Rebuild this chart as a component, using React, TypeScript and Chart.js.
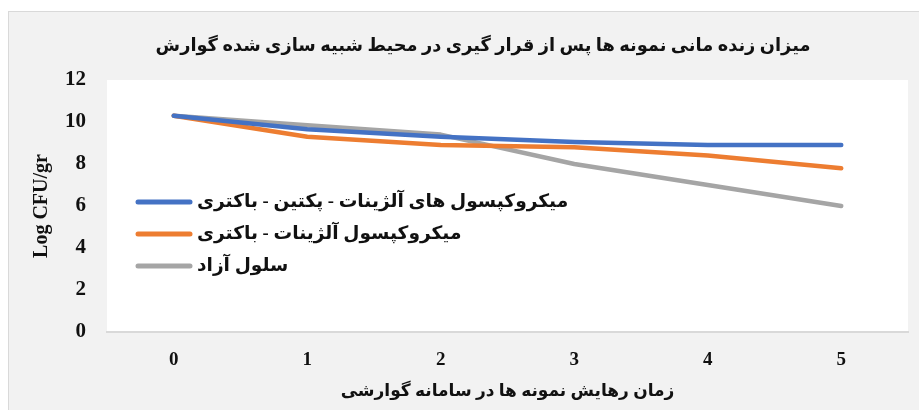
import React, { useEffect, useRef } from "react";
import { Chart, registerables } from "chart.js";

Chart.register(...registerables);

const chartTitle = "میزان زنده مانی نمونه ها پس از قرار گیری در محیط شبیه سازی شده گوارش";
const xAxisTitle = "زمان رهایش نمونه ها در سامانه گوارشی";
const yAxisTitle = "Log CFU/gr";
const categories = ["0", "1", "2", "3", "4", "5"];
const seriesNames = [
  "میکروکپسول های آلژینات - پکتین - باکتری",
  "میکروکپسول آلژینات - باکتری",
  "سلول آزاد",
];
const pectinSeries = [10.3, 9.65, 9.3, 9.05, 8.9, 8.9];
const alginateSeries = [10.3, 9.3, 8.9, 8.8, 8.4, 7.8];
const freeCellSeries = [10.3, 9.85, 9.4, 8.0, 7.0, 6.0];
const seriesColors = ["#4472C4", "#ED7D31", "#A5A5A5"];

const FONT = "'Liberation Serif', 'Times New Roman', 'DejaVu Sans', serif";

const decorPlugin = {
  id: "decor",
  beforeDraw(chart: any) {
    const { ctx, chartArea } = chart;
    ctx.save();
    ctx.fillStyle = "#ffffff";
    ctx.fillRect(chartArea.left, chartArea.top, chartArea.right - chartArea.left, chartArea.bottom - chartArea.top);
    ctx.restore();
  },
  afterDraw(chart: any) {
    const { ctx } = chart;
    ctx.save();
    // title
    ctx.fillStyle = "#111";
    ctx.font = `bold 17.8px ${FONT}`;
    ctx.textAlign = "center";
    ctx.textBaseline = "middle";
    ctx.fillText(chartTitle, 483, 46);
    // legend
    chart.data.datasets.forEach((ds: any, i: number) => {
      const y = 202 + i * 32;
      ctx.strokeStyle = ds.borderColor;
      ctx.lineWidth = 5;
      ctx.lineCap = "round";
      ctx.beginPath();
      ctx.moveTo(138, y);
      ctx.lineTo(190, y);
      ctx.stroke();
      ctx.fillStyle = "#111";
      ctx.font = `bold 18.6px ${FONT}`;
      ctx.textAlign = "left";
      ctx.textBaseline = "middle";
      ctx.fillText(ds.label, 197, y);
    });
    ctx.restore();
  },
};

export default function App() {
  const canvasRef = useRef<HTMLCanvasElement | null>(null);

  useEffect(() => {
    if (!canvasRef.current) return;
    const mk = (label: string, data: number[], color: string) => ({
      label,
      data,
      borderColor: color,
      backgroundColor: color,
      borderWidth: 4.5,
      borderCapStyle: "round" as const,
      borderJoinStyle: "round" as const,
      pointRadius: 0,
      tension: 0,
      fill: false,
    });
    const chart = new Chart(canvasRef.current, {
      type: "line",
      data: {
        labels: categories,
        datasets: [
          mk(seriesNames[0], pectinSeries, seriesColors[0]),
          mk(seriesNames[1], alginateSeries, seriesColors[1]),
          mk(seriesNames[2], freeCellSeries, seriesColors[2]),
        ],
      },
      options: {
        animation: false,
        responsive: true,
        maintainAspectRatio: false,
        layout: { padding: { top: 80, left: 0, right: 11, bottom: 0 } },
        plugins: {
          legend: { display: false },
          title: { display: false },
          tooltip: { enabled: false },
        },
        scales: {
          x: {
            type: "category",
            offset: true,
            grid: { display: false, drawTicks: false },
            border: { display: true, color: "#d9d9d9", width: 2 },
            ticks: {
              color: "#111",
              font: { family: FONT, size: 19, weight: "bold" },
              padding: 17,
            },
            title: {
              display: true,
              text: xAxisTitle,
              color: "#111",
              font: { family: FONT, size: 17, weight: "bold" },
              padding: { top: 0, bottom: 8 },
            },
            afterFit(scale: any) {
              scale.height = 78;
            },
          },
          y: {
            min: 0,
            max: 12,
            ticks: {
              stepSize: 2,
              color: "#111",
              font: { family: FONT, size: 21, weight: "bold" },
              padding: 21,
            },
            grid: { display: false, drawTicks: false },
            border: { display: false },
            title: {
              display: true,
              text: yAxisTitle,
              color: "#111",
              font: { family: FONT, size: 20, weight: "bold" },
              padding: { top: 30, bottom: 0 },
            },
            afterFit(scale: any) {
              scale.width = 107;
            },
          },
        },
      },
      plugins: [decorPlugin],
    });
    return () => chart.destroy();
  }, []);

  return (
    <div style={{ position: "absolute", left: 0, top: 0, width: 919, height: 410 }}>
      <div
        style={{
          position: "absolute",
          left: 8,
          top: 11,
          width: 911,
          height: 399,
          background: "#f2f2f2",
          borderTop: "1.5px solid #d9d9d9",
          borderLeft: "1.5px solid #d9d9d9",
          boxSizing: "border-box",
        }}
      />
      <canvas ref={canvasRef} style={{ position: "absolute", left: 0, top: 0 }} />
    </div>
  );
}
